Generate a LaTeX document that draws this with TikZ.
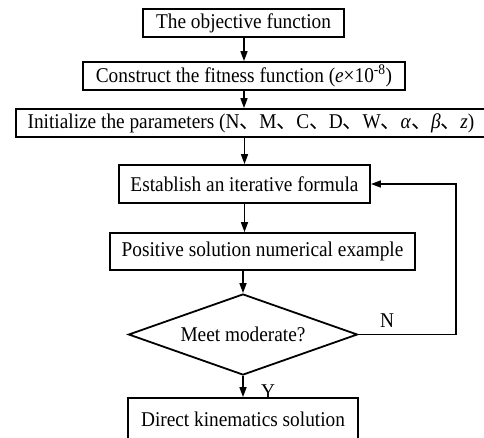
\documentclass[tikz,border=0pt]{standalone}
\usepackage{fontspec}
\setmainfont[FakeStretch=0.92]{Liberation Serif}
\newfontfamily\cjkfont{Noto Sans CJK SC}
\usetikzlibrary{shapes.geometric,arrows.meta}
\newcommand{\dunhao}{{\cjkfont 、}\kern-1.2pt}
\begin{document}
\begin{tikzpicture}[x=1pt,y=-1pt,
  txt/.style={font=\fontsize{21}{24}\selectfont},
  box/.style={txt,draw,line width=1.8pt,inner sep=0pt},
  arr/.style={line width=1.6pt,-{Triangle[length=10pt,width=7pt]}},
  fb/.style={line width=1.6pt}]
\useasboundingbox (0,0) rectangle (484,437);
\clip (0,0) rectangle (484,437);
\node[box,minimum width=201pt,minimum height=28pt] (b1) at (243.5,23) {The objective function};
\node[box,minimum width=322pt,minimum height=28pt] (b2) at (244,76) {Construct the fitness function (\textit{e}×10\textsuperscript{-8})};
\node[box,minimum width=470pt,minimum height=28pt] (b3) at (251,123) {Initialize the parameters (N\dunhao M\dunhao C\dunhao D\dunhao W\dunhao \textit{α}\dunhao \textit{β}\dunhao \textit{z})};
\node[box,minimum width=251pt,minimum height=38pt] (b4) at (244.5,184) {Establish an iterative formula};
\node[box,minimum width=305pt,minimum height=37pt] (b5) at (262.5,251.5) {Positive solution numerical example};
\node[txt,draw,line width=1.8pt,diamond,aspect=2.83,minimum width=229pt,minimum height=81pt,inner sep=1pt] (dia) at (243,334.5) {Meet moderate?};
\node[box,minimum width=230pt,minimum height=42pt] (b6) at (243,419) {Direct kinematics solution};
\coordinate (fbtop) at (456,184);
\node[txt] (nl) at (387,321) {N};
\node[txt] (yl) at (268,392) {Y};
\draw[arr] (b2.north |- b1.south) -- (b2.north);
\draw[arr] (b2.south) -- (b2.south |- b3.north);
\draw[arr] (b4.north |- b3.south) -- (b4.north);
\draw[arr] (b4.south) -- (b4.south |- b5.north);
\draw[arr] (dia.north |- b5.south) -- (dia.north);
\draw[arr] (dia.south) -- (dia.south |- b6.north);
\draw[arr] (dia.east) -| (fbtop) -- (b4.east);
\end{tikzpicture}
\end{document}
